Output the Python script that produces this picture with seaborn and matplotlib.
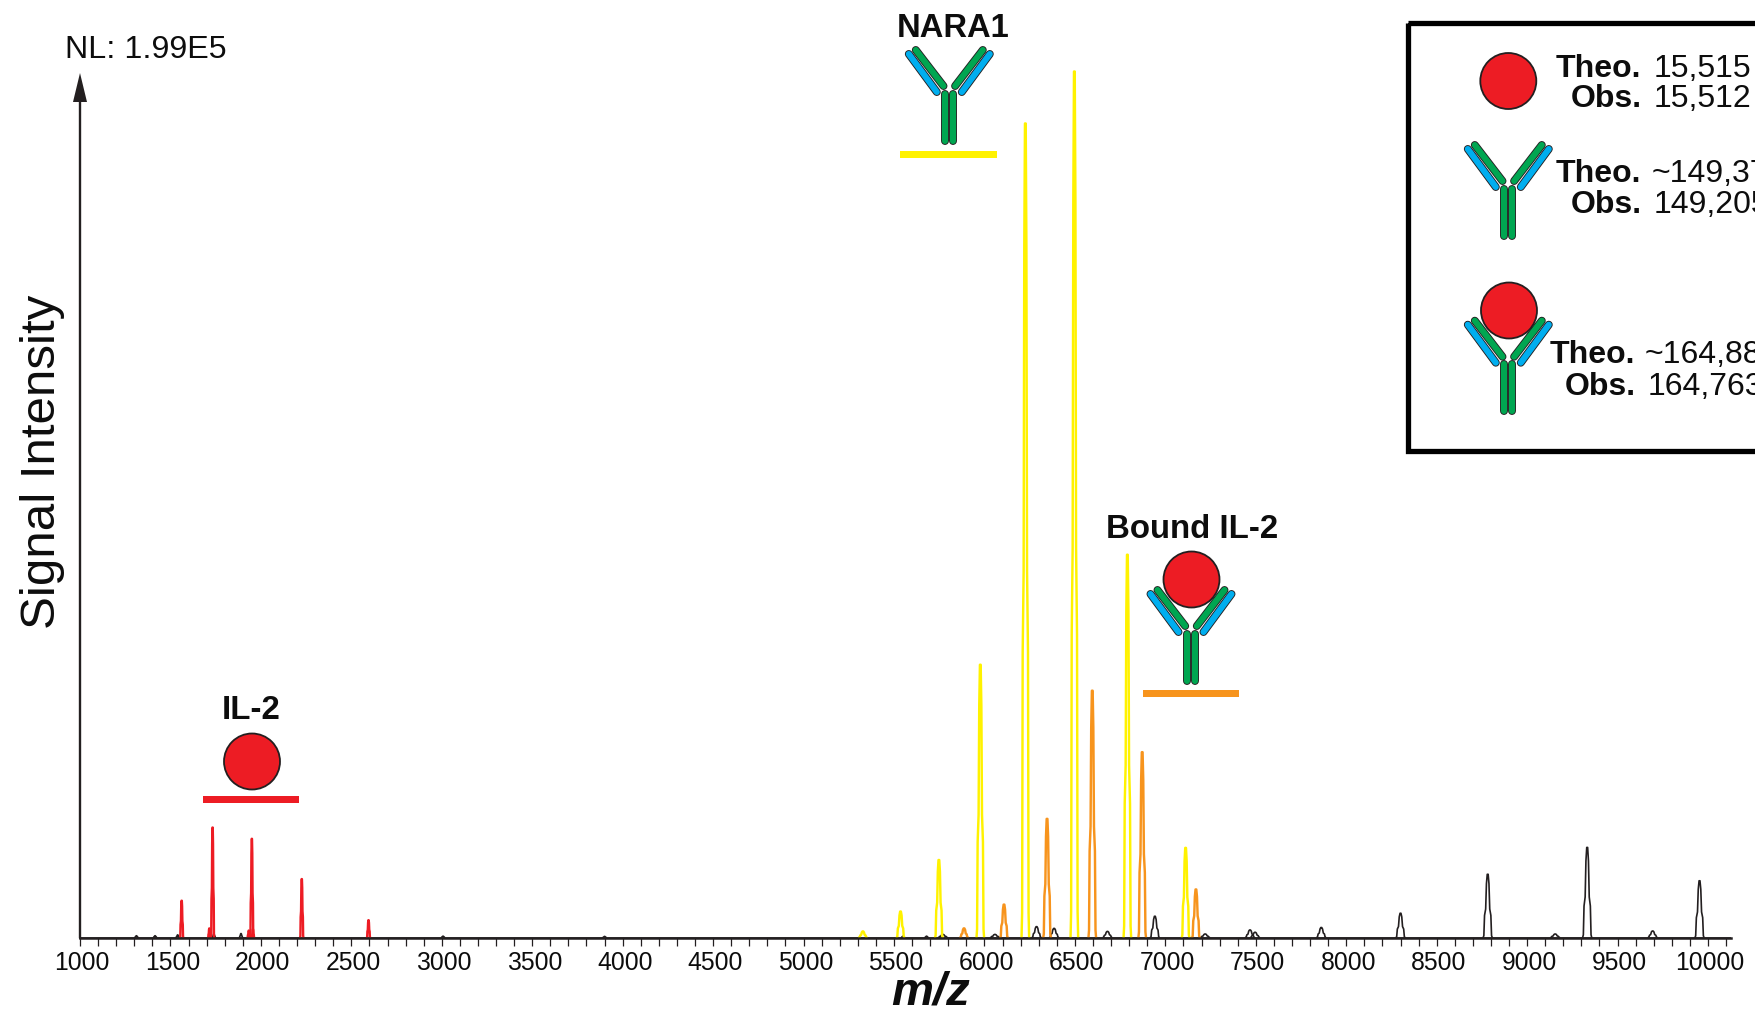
import numpy as np
import pandas as pd
import matplotlib
matplotlib.use("Agg")
import matplotlib.pyplot as plt
from matplotlib.patches import Circle, Rectangle, Polygon
from matplotlib.ticker import MultipleLocator
from matplotlib.transforms import ScaledTranslation
import seaborn as sns

# ---- data: m/z centre and relative intensity (%) ----
il2_mz = [1562, 1733, 1950, 2226, 2595]
il2_int = [4.25, 12.7, 11.4, 6.75, 2.0]
il2_sat_mz = [1715, 1933, 1956]
il2_sat_int = [1.05, 0.8, 0.95]
nara1_mz = [5328, 5536, 5748, 5977, 6226, 6497, 6790, 7112]
nara1_int = [0.7, 3.0, 8.95, 31.5, 94.0, 100.0, 44.2, 10.35]
bound_mz = [5887, 6108, 6346, 6596, 6872, 7169]
bound_int = [1.05, 3.8, 13.7, 28.5, 21.4, 5.55]
other_mz = [5770, 6058, 6288, 6385, 6680, 6942, 7220, 7468, 7496, 7862, 8300, 8782, 9155, 9332, 9694, 9953]
other_int = [0.35, 0.35, 1.25, 1.05, 0.7, 2.45, 0.4, 0.87, 0.6, 1.15, 2.8, 7.3, 0.4, 10.4, 0.75, 6.55]
noise_mz = [1312, 1415, 1540, 1740, 1890, 3007, 3900, 5550, 5680]
noise_int = [0.2, 0.2, 0.3, 0.4, 0.45, 0.15, 0.12, 0.15, 0.15]
major_ticks = [1000, 1500, 2000, 2500, 3000, 3500, 4000, 4500, 5000, 5500, 6000, 6500, 7000, 7500, 8000, 8500, 9000, 9500, 10000]

# peak outline: fraction of height vs fraction of half width (style)
PROFILE_H = [0.0, 0.03, 0.35, 0.45, 0.85, 1.0]
PROFILE_W = [1.0, 0.85, 0.70, 0.45, 0.28, 0.10]
XMIN, XMAX = 1000, 10127

RED = "#ED1C24"; YEL = "#FFF200"; ORA = "#F7941D"; GRN = "#00A651"; BLU = "#00AEEF"; INK = "#231F20"
TXT = "#0d0d0d"


def trace(name, centres, heights, hw, ends=False):
    rows = []
    for i, (c, h) in enumerate(zip(centres, heights)):
        xs = [c - hw * w for w in PROFILE_W] + [c + hw * w for w in PROFILE_W[::-1]]
        vals = [h * f for f in PROFILE_H]
        ys = vals + vals[::-1]
        rows.append(pd.DataFrame({"mz": xs, "intensity": ys, "peak": i}))
    if ends:
        rows.append(pd.DataFrame({"mz": [XMIN, XMAX], "intensity": [0.0, 0.0], "peak": len(rows)}))
    out = pd.concat(rows, ignore_index=True)
    out["series"] = name
    return out


sns.set_theme(style="white")
plt.rcParams["font.family"] = ["Liberation Sans", "DejaVu Sans"]

W, H = 1755, 1012
fig = plt.figure(figsize=(W / 100, H / 100), dpi=100, facecolor="white")
base_px, top_px = 938.5, 60.0
px100 = 866.0
ax = fig.add_axes([80 / W, (H - base_px) / H, (1731 - 80) / W, (base_px - top_px) / H])

frames = [
    trace("noise", noise_mz, noise_int, 9, ends=True),
    trace("other", other_mz, other_int, 25),
    trace("nara1", nara1_mz, nara1_int, 21),
    trace("bound", bound_mz, bound_int, 21),
    trace("il2", il2_mz, il2_int, 9),
    trace("il2sat", il2_sat_mz, il2_sat_int, 7),
]
widths = {"noise": 1.2, "other": 1.2, "nara1": 1.75, "bound": 1.75, "il2": 1.7, "il2sat": 1.7}
colors = {"noise": INK, "other": INK, "nara1": YEL, "bound": ORA, "il2": RED, "il2sat": RED}
for f in frames:
    name = f["series"].iloc[0]
    sns.lineplot(data=f, x="mz", y="intensity", units="peak", color=colors[name], lw=widths[name],
                 estimator=None, sort=False, ax=ax, legend=False, errorbar=None)

ax.set_xlim(XMIN, XMAX)
ax.set_ylim(0, (base_px - top_px) / px100 * 100)
ax.set_xlabel(""); ax.set_ylabel("")
ax.set_yticks([])
for s in ("top", "right", "left"):
    ax.spines[s].set_visible(False)
ax.spines["bottom"].set_linewidth(1.8)
ax.spines["bottom"].set_color(INK)
ax.set_xticks(major_ticks)
ax.set_xticklabels([str(t) for t in major_ticks])
ax.xaxis.set_minor_locator(MultipleLocator(100))
ax.tick_params(axis="x", which="both", bottom=True, length=6, width=0.9, color=INK)
ax.tick_params(axis="x", which="major", labelsize=17.8, pad=3, labelcolor=TXT)
shift = ScaledTranslation(2 / 100, 0, fig.dpi_scale_trans)
for lab in ax.get_xticklabels():
    lab.set_transform(lab.get_transform() + shift)
ax.patch.set_alpha(0)

# ---- annotation layer in pixel coordinates ----
ov = fig.add_axes([0, 0, 1, 1], zorder=5)
ov.set_xlim(0, W); ov.set_ylim(H, 0); ov.axis("off"); ov.patch.set_alpha(0)


def pill(x0, y0, x1, y1, color):
    ov.plot([x0, x1], [y0, y1], color=INK, lw=5.7, solid_capstyle="round", zorder=3)
    ov.plot([x0, x1], [y0, y1], color=color, lw=4.4, solid_capstyle="round", zorder=3.1)


def antibody(cx, bottom):
    for sgn in (-1, 1):
        pill(cx + sgn * 12.5, bottom - 52, cx + sgn * 40.5, bottom - 90, BLU)
        pill(cx + sgn * 5.8, bottom - 58, cx + sgn * 33.5, bottom - 94, GRN)
        pill(cx + sgn * 3.9, bottom - 3.5, cx + sgn * 3.9, bottom - 50.5, GRN)


def disc(cx, cy):
    ov.add_patch(Circle((cx, cy), 28, fc=RED, ec=INK, lw=1.3, zorder=4))


def bar(x0, x1, yc, color):
    ov.add_patch(Rectangle((x0, yc - 3.3), x1 - x0, 6.6, fc=color, ec="none", zorder=3))


# y axis arrow
ov.plot([80, 80], [938.5, 100], color=INK, lw=1.7, zorder=2)
ov.add_patch(Polygon([[80, 74], [73, 103], [87, 103]], closed=True, fc=INK, ec="none", zorder=2))

ov.text(65, 58, "NL: 1.99E5", fontsize=23.2, color=TXT, ha="left", va="baseline")
ov.text(42.5, 462, "Signal Intensity", fontsize=35.5, rotation=90, color=TXT, ha="center", va="center")
ov.text(931, 1005, "m/z", fontsize=34, fontweight="bold", fontstyle="italic", color=TXT, ha="center", va="baseline")

ov.text(251, 719, "IL-2", fontsize=23.8, fontweight="bold", color=TXT, ha="center", va="baseline")
disc(252, 762.5)
bar(203, 299, 800.5, RED)

ov.text(953.5, 37, "NARA1", fontsize=23.6, fontweight="bold", color=TXT, ha="center", va="baseline")
antibody(949.3, 145)
bar(900, 997, 155.5, YEL)

ov.text(1192.5, 538, "Bound IL-2", fontsize=23.8, fontweight="bold", color=TXT, ha="center", va="baseline")
antibody(1191, 685)
disc(1191.5, 580.5)
bar(1143, 1239, 694.5, ORA)

# legend box
ov.add_patch(Rectangle((1408, 24), 400, 428, fc="none", ec="black", lw=3.8, zorder=2))
disc(1508.3, 82)
antibody(1508.3, 240)
antibody(1508.3, 415.7)
disc(1509, 311.5)

legend_rows = [
    ("Theo.", "15,515", 1641.5, 1654, 76.7),
    ("Obs.", "15,512", 1641.5, 1654, 106.7),
    ("Theo.", "~149,370", 1641.5, 1652, 181.7),
    ("Obs.", "149,205", 1641.5, 1654, 213),
    ("Theo.", "~164,885", 1635, 1644.7, 363),
    ("Obs.", "164,763", 1635.5, 1648, 395),
]
for lab, val, xr, xl, yb in legend_rows:
    ov.text(xr, yb, lab, fontsize=23, fontweight="bold", color=TXT, ha="right", va="baseline", zorder=6)
    ov.text(xl, yb, val, fontsize=23, color=TXT, ha="left", va="baseline", zorder=6)

fig.savefig("out.png", dpi=100, facecolor="white")
